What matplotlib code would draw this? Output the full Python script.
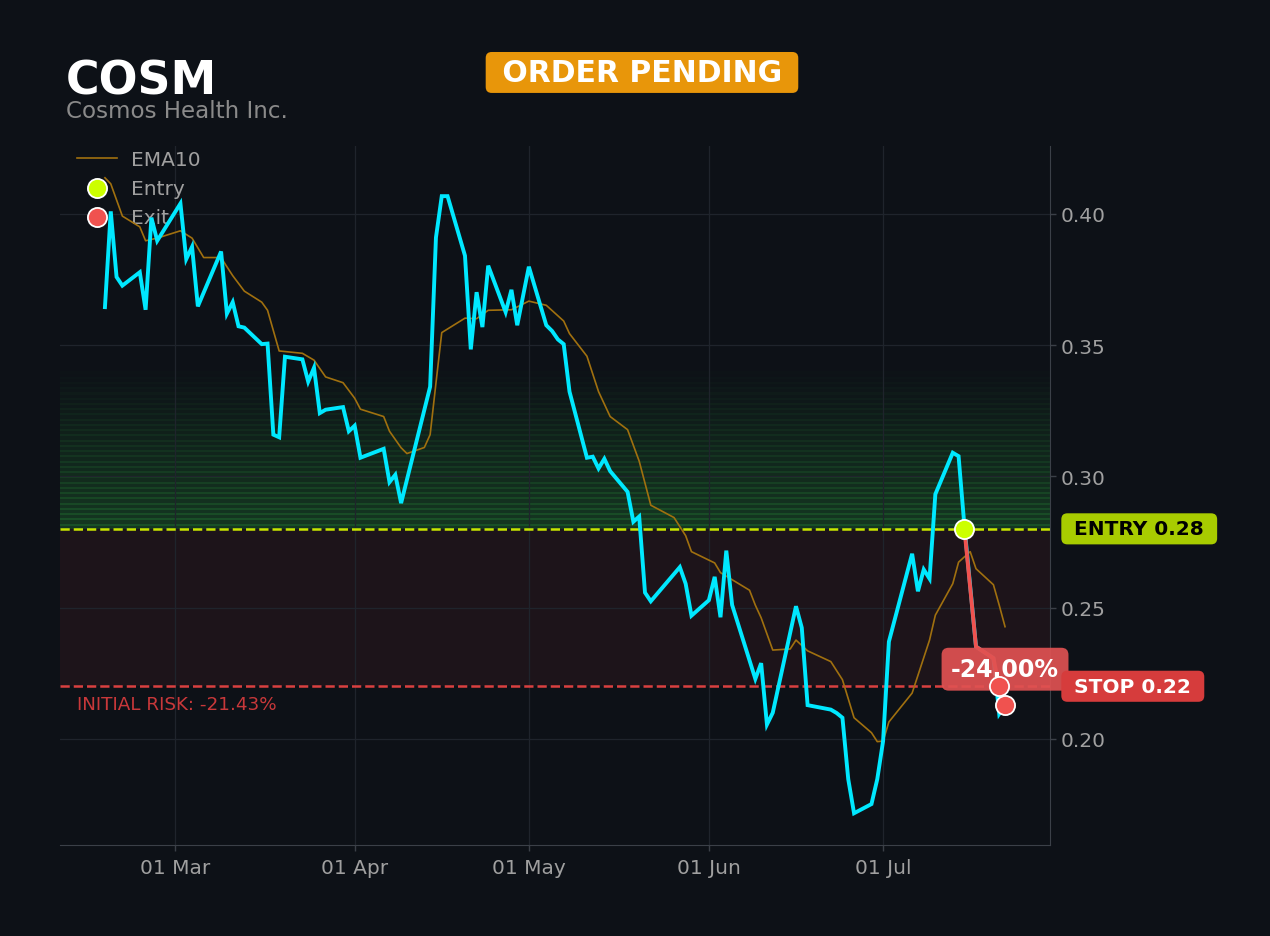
import matplotlib
matplotlib.use("Agg")
import matplotlib.pyplot as plt
import matplotlib.dates as mdates
from matplotlib.ticker import MultipleLocator, FormatStrFormatter
import pandas as pd

# price (close)
price_dates = [
    "2026-02-17", "2026-02-18", "2026-02-19", "2026-02-20", "2026-02-23", "2026-02-24",
    "2026-02-25", "2026-02-26", "2026-03-02", "2026-03-03", "2026-03-04", "2026-03-05",
    "2026-03-09", "2026-03-10", "2026-03-11", "2026-03-12", "2026-03-13", "2026-03-16",
    "2026-03-17", "2026-03-18", "2026-03-19", "2026-03-20", "2026-03-23", "2026-03-24",
    "2026-03-25", "2026-03-26", "2026-03-27", "2026-03-30", "2026-03-31", "2026-04-01",
    "2026-04-02", "2026-04-06", "2026-04-07", "2026-04-08", "2026-04-09", "2026-04-14",
    "2026-04-15", "2026-04-16", "2026-04-17", "2026-04-20", "2026-04-21", "2026-04-22",
    "2026-04-23", "2026-04-24", "2026-04-27", "2026-04-28", "2026-04-29", "2026-05-01",
    "2026-05-04", "2026-05-05", "2026-05-06", "2026-05-07", "2026-05-08", "2026-05-11",
    "2026-05-12", "2026-05-13", "2026-05-14", "2026-05-15", "2026-05-18", "2026-05-19",
    "2026-05-20", "2026-05-21", "2026-05-22", "2026-05-27", "2026-05-28", "2026-05-29",
    "2026-06-01", "2026-06-02", "2026-06-03", "2026-06-04", "2026-06-05", "2026-06-09",
    "2026-06-10", "2026-06-11", "2026-06-12", "2026-06-16", "2026-06-17", "2026-06-18",
    "2026-06-22", "2026-06-23", "2026-06-24", "2026-06-25", "2026-06-26", "2026-06-29",
    "2026-06-30", "2026-07-01", "2026-07-02", "2026-07-06", "2026-07-07", "2026-07-08",
    "2026-07-09", "2026-07-10", "2026-07-13", "2026-07-14", "2026-07-15", "2026-07-17",
    "2026-07-20", "2026-07-21", "2026-07-22",
]
price_close = [
    0.3645, 0.4010, 0.3760, 0.3727, 0.3778, 0.3635,
    0.3986, 0.3898, 0.4040, 0.3828, 0.3875, 0.3648,
    0.3857, 0.3620, 0.3664, 0.3572, 0.3567, 0.3504,
    0.3506, 0.3159, 0.3149, 0.3456, 0.3446, 0.3361,
    0.3414, 0.3241, 0.3254, 0.3264, 0.3172, 0.3193,
    0.3071, 0.3105, 0.2978, 0.3006, 0.2898, 0.3342,
    0.3910, 0.4068, 0.4068, 0.3841, 0.3484, 0.3702,
    0.3569, 0.3803, 0.3626, 0.3711, 0.3576, 0.3799,
    0.3576, 0.3554, 0.3522, 0.3504, 0.3323, 0.3071,
    0.3075, 0.3030, 0.3067, 0.3020, 0.2941, 0.2827,
    0.2847, 0.2557, 0.2524, 0.2654, 0.2591, 0.2469,
    0.2528, 0.2617, 0.2463, 0.2717, 0.2510, 0.2228,
    0.2288, 0.2054, 0.2099, 0.2505, 0.2423, 0.2128,
    0.2111, 0.2098, 0.2080, 0.1846, 0.1716, 0.1751,
    0.1846, 0.1991, 0.2370, 0.2705, 0.2562, 0.2645,
    0.2610, 0.2932, 0.3090, 0.3077, 0.2812, 0.2351,
    0.2307, 0.2095, 0.2128,
]

ema_dates = [
    "2026-02-17", "2026-02-18", "2026-02-20", "2026-02-23", "2026-02-24", "2026-02-26",
    "2026-03-02", "2026-03-04", "2026-03-06", "2026-03-09", "2026-03-10", "2026-03-11",
    "2026-03-13", "2026-03-16", "2026-03-17", "2026-03-19", "2026-03-23", "2026-03-25",
    "2026-03-27", "2026-03-30", "2026-04-01", "2026-04-02", "2026-04-06", "2026-04-07",
    "2026-04-09", "2026-04-10", "2026-04-13", "2026-04-14", "2026-04-15", "2026-04-16",
    "2026-04-20", "2026-04-22", "2026-04-24", "2026-04-28", "2026-05-01", "2026-05-04",
    "2026-05-07", "2026-05-08", "2026-05-11", "2026-05-13", "2026-05-15", "2026-05-18",
    "2026-05-20", "2026-05-22", "2026-05-26", "2026-05-28", "2026-05-29", "2026-06-02",
    "2026-06-03", "2026-06-08", "2026-06-09", "2026-06-10", "2026-06-12", "2026-06-15",
    "2026-06-16", "2026-06-18", "2026-06-22", "2026-06-24", "2026-06-26", "2026-06-29",
    "2026-06-30", "2026-07-01", "2026-07-02", "2026-07-06", "2026-07-09", "2026-07-10",
    "2026-07-13", "2026-07-14", "2026-07-16", "2026-07-17", "2026-07-20", "2026-07-21",
    "2026-07-22",
]
ema_values = [
    0.4138, 0.4115, 0.3992, 0.3951, 0.3898, 0.3908,
    0.3936, 0.3908, 0.3834, 0.3834, 0.3799, 0.3765,
    0.3706, 0.3664, 0.3633, 0.3478, 0.3469, 0.3443,
    0.3379, 0.3357, 0.3298, 0.3256, 0.3228, 0.3172,
    0.3109, 0.3087, 0.3110, 0.3159, 0.3355, 0.3548,
    0.3603, 0.3601, 0.3633, 0.3635, 0.3668, 0.3652,
    0.3592, 0.3544, 0.3458, 0.3323, 0.3228, 0.3178,
    0.3058, 0.2890, 0.2843, 0.2774, 0.2713, 0.2670,
    0.2633, 0.2566, 0.2509, 0.2461, 0.2338, 0.2342,
    0.2376, 0.2335, 0.2294, 0.2225, 0.2080, 0.2023,
    0.1989, 0.1991, 0.2064, 0.2174, 0.2376, 0.2471,
    0.2591, 0.2673, 0.2713, 0.2648, 0.2587, 0.2509,
    0.2427,
]

# trade
entry_price = 0.28
stop_price = 0.22
entry_date = "2026-07-15"
trade_dates = ["2026-07-15", "2026-07-17", "2026-07-20", "2026-07-21"]
trade_values = [0.28, 0.2351, 0.2307, 0.22]
exit_dates = ["2026-07-21", "2026-07-22"]
exit_values = [0.22, 0.2128]
pnl_pct = -24.00
initial_risk_pct = -21.43

BG = "#0d1117"
CYAN = "#00e8ff"
EMA_COLOR = "#a0700f"
LIME = "#ccff00"
RED = "#f0524f"
TXT = "#a0a0a0"

px = pd.to_datetime(price_dates)
ex = pd.to_datetime(ema_dates)

fig = plt.figure(figsize=(12.7, 9.37), dpi=100, facecolor=BG)
ax = fig.add_axes([0.0472, 0.0971, 0.7796, 0.746])
ax.set_facecolor(BG)

# risk zone between stop and entry
ax.axhspan(stop_price, entry_price, color="#e53e3e", alpha=0.08, lw=0, zorder=0.3)

# striped green gradient from entry up to 1R target
target = entry_price + (entry_price - stop_price)
n_bands = 30
h = (target - entry_price) / n_bands
for i in range(n_bands):
    a = 0.48 * (1 - i / n_bands)
    lo = entry_price + i * h
    ax.axhspan(lo, lo + 0.6 * h, color="#28963a", alpha=a * 0.6, lw=0, zorder=0.3)
    ax.axhspan(lo + 0.6 * h, lo + h, color="#28963a", alpha=a, lw=0, zorder=0.3)

ax.axhline(entry_price, color="#c8e600", lw=1.8, ls="--", zorder=1.5)
ax.axhline(stop_price, color="#d94040", lw=1.8, ls="--", zorder=1.5)

ax.plot(ex, ema_values, color=EMA_COLOR, lw=1.2, label="EMA10", zorder=2)
ax.plot(px, price_close, color=CYAN, lw=2.8, zorder=3, solid_joinstyle="miter")
ax.plot(pd.to_datetime(trade_dates), trade_values, color=RED, lw=2.8, zorder=4)

ax.scatter(pd.to_datetime([entry_date]), [entry_price], s=190, color=LIME,
           edgecolor="white", lw=1.3, zorder=6, label="Entry")
ax.scatter(pd.to_datetime(exit_dates), exit_values, s=190, color=RED,
           edgecolor="white", lw=1.3, zorder=6, label="Exit")

ax.grid(True, color="#1f242c", lw=0.9, zorder=0)
ax.set_axisbelow(True)

ax.yaxis.tick_right()
ax.yaxis.set_major_locator(MultipleLocator(0.05))
ax.yaxis.set_major_formatter(FormatStrFormatter("%.2f"))
ax.xaxis.set_major_locator(mdates.MonthLocator())
ax.xaxis.set_major_formatter(mdates.DateFormatter("%d %b"))
ax.tick_params(colors="#3b4048", labelcolor=TXT, labelsize=14.5, length=4, width=1)
ax.tick_params(axis="x", pad=5)

for side in ["top", "left"]:
    ax.spines[side].set_visible(False)
for side in ["bottom", "right"]:
    ax.spines[side].set_color("#3b4048")

leg = ax.legend(loc="upper left", bbox_to_anchor=(0.003, 1.015), frameon=False,
                fontsize=14.5, labelcolor=TXT, borderaxespad=0.3, handlelength=2.0,
                handletextpad=0.7)
leg.set_zorder(1)

# level tags on the right
tag = dict(boxstyle="round,pad=0.3,rounding_size=0.3", ec="none")
ax.text(1.0175, entry_price, f" ENTRY {entry_price:.2f} ", transform=ax.get_yaxis_transform(),
        ha="left", va="center", fontsize=14.5, fontweight="bold", color="black",
        bbox=dict(tag, fc="#a8cc00"), clip_on=False, zorder=7)
ax.text(1.0175, stop_price, f" STOP {stop_price:.2f} ", transform=ax.get_yaxis_transform(),
        ha="left", va="center", fontsize=14.5, fontweight="bold", color="white",
        bbox=dict(tag, fc="#d63c3c"), clip_on=False, zorder=7)

ax.text(pd.Timestamp(exit_dates[-1]), 0.2265, f"{pnl_pct:.2f}%", ha="center", va="center",
        fontsize=17, fontweight="bold", color="white",
        bbox=dict(boxstyle="round,pad=0.4,rounding_size=0.3", fc="#e05252", ec="none", alpha=0.92),
        clip_on=False, zorder=5.5)

ax.text(0.017, stop_price - 0.0035, f"INITIAL RISK: {initial_risk_pct:.2f}%",
        transform=ax.get_yaxis_transform(), ha="left", va="top", fontsize=13.2, color="#c8383a")

fig.text(0.052, 0.899, "COSM", fontsize=33, fontweight="bold", color="white", va="baseline")
fig.text(0.052, 0.874, "Cosmos Health Inc.", fontsize=16.6, color="#8a8a8a", va="baseline")
fig.text(0.5055, 0.9216, " ORDER PENDING ", fontsize=21.5, fontweight="bold", color="white",
         ha="center", va="center",
         bbox=dict(boxstyle="round,pad=0.2,rounding_size=0.2", fc="#e8960a", ec="none"))

fig.savefig("out.png", dpi=100, facecolor=BG)
